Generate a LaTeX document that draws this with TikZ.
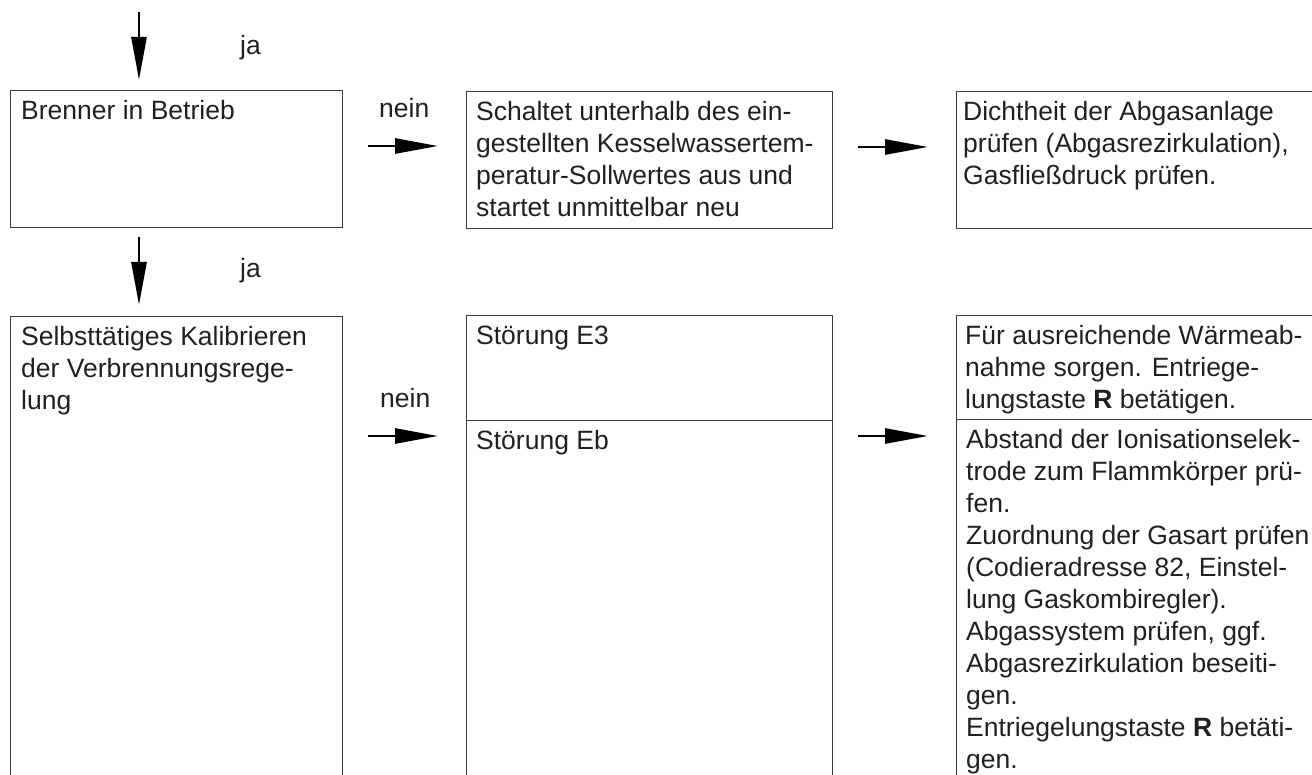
\documentclass[tikz,border=0pt]{standalone}
\usepackage{fontspec}
\setmainfont{Liberation Sans}
\usetikzlibrary{arrows.meta,calc}
\definecolor{txtc}{HTML}{231F20}
\definecolor{linec}{HTML}{3C3C3C}
\begin{document}
\begin{tikzpicture}[x=1pt,y=-1pt,
  box/.style={draw=linec, line width=1.3pt, rectangle, inner sep=0pt, anchor=north west},
  txt/.style={anchor=north west, inner sep=0pt, align=left, text=txtc, font=\fontsize{26.5}{32}\selectfont},
  lbl/.style={anchor=base west, inner sep=0pt, text=txtc, font=\fontsize{26.5}{32}\selectfont},
  arr/.style={line width=2.8pt, -{Triangle[length=43pt,width=15pt]}}]
\path[use as bounding box] (0,0) rectangle (1312,775);
\clip (0,0) rectangle (1312,775);
% boxes
\node[box, minimum width=332pt, minimum height=137pt] (b1) at (10,90) {};
\node[box, minimum width=366pt, minimum height=137pt] (b2) at (466,91) {};
\node[box, minimum width=400pt, minimum height=137pt] (b3) at (956,91) {};
\node[box, minimum width=332pt, minimum height=500pt] (b4) at (10,316) {};
\node[box, minimum width=366pt, minimum height=105pt] (b5a) at (466,315) {};
\node[box, minimum width=366pt, minimum height=400pt] (b5b) at (466,420) {};
\node[box, minimum width=400pt, minimum height=104pt] (b6a) at (956,315) {};
\node[box, minimum width=400pt, minimum height=400pt] (b6b) at (956,419) {};
% texts
\node[txt] (t1) at ($(b1.north west)+(11,5)$) {\rule{0pt}{24pt}Brenner in Betrieb};
\node[txt] (t2) at ($(b2.north west)+(10,5)$) {\rule{0pt}{24pt}Schaltet unterhalb des ein-\\gestellten Kesselwassertem-\\peratur-Sollwertes aus und\\startet unmittelbar neu};
\node[txt] (t3) at ($(b3.north west)+(7,5)$) {\rule{0pt}{24pt}Dichtheit der Abgasanlage\\prüfen (Abgasrezirkulation),\\Gasfließdruck prüfen.};
\node[txt] (t4) at ($(b4.north west)+(11,5)$) {\rule{0pt}{24pt}Selbsttätiges Kalibrieren\\der Verbrennungsrege-\\lung};
\node[txt] (t5a) at ($(b5a.north west)+(10,5)$) {\rule{0pt}{24pt}Störung E3};
\node[txt] (t5b) at ($(b5b.north west)+(10,5)$) {\rule{0pt}{24pt}Störung Eb};
\node[txt] (t6a) at ($(b6a.north west)+(9,5)$) {\rule{0pt}{24pt}Für ausreichende Wärmeab-\\nahme sorgen. Entriege-\\lungstaste \textbf{R} betätigen.};
\node[txt] (t6b) at ($(b6b.north west)+(10,5)$) {\rule{0pt}{24pt}Abstand der Ionisationselek-\\trode zum Flammkörper prü-\\fen.\\Zuordnung der Gasart prüfen\\(Codieradresse 82, Einstel-\\lung Gaskombiregler).\\Abgassystem prüfen, ggf.\\Abgasrezirkulation beseiti-\\gen.\\Entriegelungstaste \textbf{R} betäti-\\gen.};
% labels
\node[lbl] (ja1) at (240,55) {ja};
\node[lbl] (ja2) at (240,278) {ja};
\node[lbl] (nein1) at (379,118) {nein};
\node[lbl] (nein2) at (380,408) {nein};
% arrows
\coordinate (s0) at (139,12);
\draw[arr] (s0) -- ($(b1.north west)+(129,-10)$);
\draw[arr] ($(b1.south west)+(129,9)$) -- ($(b4.north west)+(129,-11)$);
\draw[arr] ($(b1.north east)+(25,56)$) -- ($(b2.north west)+(-28,55)$);
\draw[arr] ($(b2.north east)+(25,56)$) -- ($(b3.north west)+(-28,56)$);
\draw[arr] ($(b4.north east)+(25,120)$) -- ($(b5b.north west)+(-28,16)$);
\draw[arr] ($(b5b.north east)+(25,16)$) -- ($(b6b.north west)+(-28,17)$);
\end{tikzpicture}
\end{document}
